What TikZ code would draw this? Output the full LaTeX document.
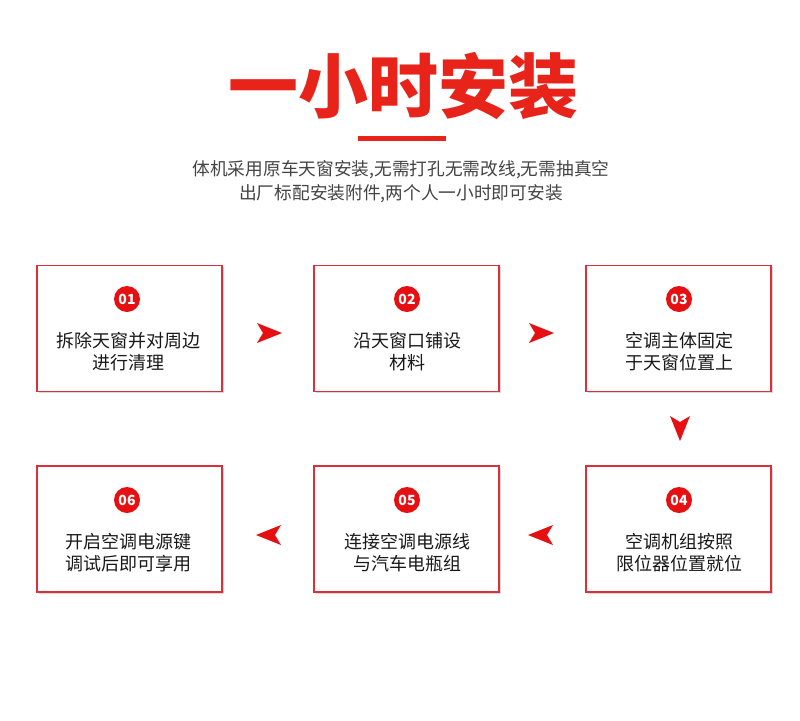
\documentclass[tikz,border=0pt]{standalone}
\usepackage{fontspec}
\newfontfamily\cjk{Noto Sans CJK SC}
\usetikzlibrary{shadows}
\definecolor{mred}{HTML}{E60F12}
\definecolor{tred}{HTML}{E8231A}
\definecolor{bred}{HTML}{D9303C}
\definecolor{tgray}{HTML}{444444}
\begin{document}
\begin{tikzpicture}[x=1pt,y=-1pt,
  stepbox/.style={draw=bred,line width=1.4pt,fill=white,minimum width=185pt,minimum height=126pt,
     drop shadow={shadow xshift=1.5pt,shadow yshift=-1.5pt,opacity=0.25,fill=black!60}},
  numc/.style={circle,fill=mred,minimum size=26pt,inner sep=0pt,text=white,font=\cjk\bfseries\fontsize{14}{14}\selectfont},
  steptext/.style={align=center,text=black!90,font=\cjk\fontsize{18}{22}\selectfont},
  arr/.style={fill=mred,draw=none}]
\useasboundingbox (0,0) rectangle (800,720);
\fill[white] (0,0) rectangle (800,720);
% title
\node[text=tred,font=\cjk\bfseries\fontsize{70}{70}\selectfont] (title) at (403,86) {一小时安装};
\fill[tred] (358,136) rectangle (446,141);
\node[text=tgray,font=\cjk\fontsize{17.7}{24}\selectfont,align=center] (sub) at (401,182)
  {体机采用原车天窗安装,无需打孔无需改线,无需抽真空\\出厂标配安装附件,两个人一小时即可安装};
% boxes
\node[stepbox] (b1) at (129.5,328.5) {};
\node[stepbox] (b2) at (406.5,328.5) {};
\node[stepbox] (b3) at (678.5,328.5) {};
\node[stepbox] (b6) at (129.5,529) {};
\node[stepbox] (b5) at (406.5,529) {};
\node[stepbox] (b4) at (678.5,529) {};
% numbers
\node[numc] (n1) at (127,299) {01};
\node[numc] (n2) at (407,299) {02};
\node[numc] (n3) at (679,299) {03};
\node[numc] (n4) at (679,500) {04};
\node[numc] (n5) at (407,500) {05};
\node[numc] (n6) at (127,500) {06};
% texts
\node[steptext] (t1) at (128,352) {拆除天窗并对周边\\进行清理};
\node[steptext] (t2) at (407,352) {沿天窗口铺设\\材料};
\node[steptext] (t3) at (679,352) {空调主体固定\\于天窗位置上};
\node[steptext] (t4) at (679,553) {空调机组按照\\限位器位置就位};
\node[steptext] (t5) at (407,553) {连接空调电源线\\与汽车电瓶组};
\node[steptext] (t6) at (128,553) {开启空调电源键\\调试后即可享用};
% arrows
\coordinate (a1) at (269,333);
\coordinate (a2) at (541,333);
\coordinate (a3) at (680,428);
\coordinate (a4) at (541,535);
\coordinate (a5) at (269,535);
\fill[arr] ([shift={(-12,-10)}]a1) -- ([shift={(13,0)}]a1) -- ([shift={(-12,10)}]a1) -- ([shift={(-6,0)}]a1) -- cycle;
\fill[arr] ([shift={(-12,-10)}]a2) -- ([shift={(13,0)}]a2) -- ([shift={(-12,10)}]a2) -- ([shift={(-6,0)}]a2) -- cycle;
\fill[arr] ([shift={(-10,-12)}]a3) -- ([shift={(0,13)}]a3) -- ([shift={(10,-12)}]a3) -- ([shift={(0,-6)}]a3) -- cycle;
\fill[arr] ([shift={(12,-10)}]a4) -- ([shift={(-13,0)}]a4) -- ([shift={(12,10)}]a4) -- ([shift={(6,0)}]a4) -- cycle;
\fill[arr] ([shift={(12,-10)}]a5) -- ([shift={(-13,0)}]a5) -- ([shift={(12,10)}]a5) -- ([shift={(6,0)}]a5) -- cycle;
\end{tikzpicture}
\end{document}
